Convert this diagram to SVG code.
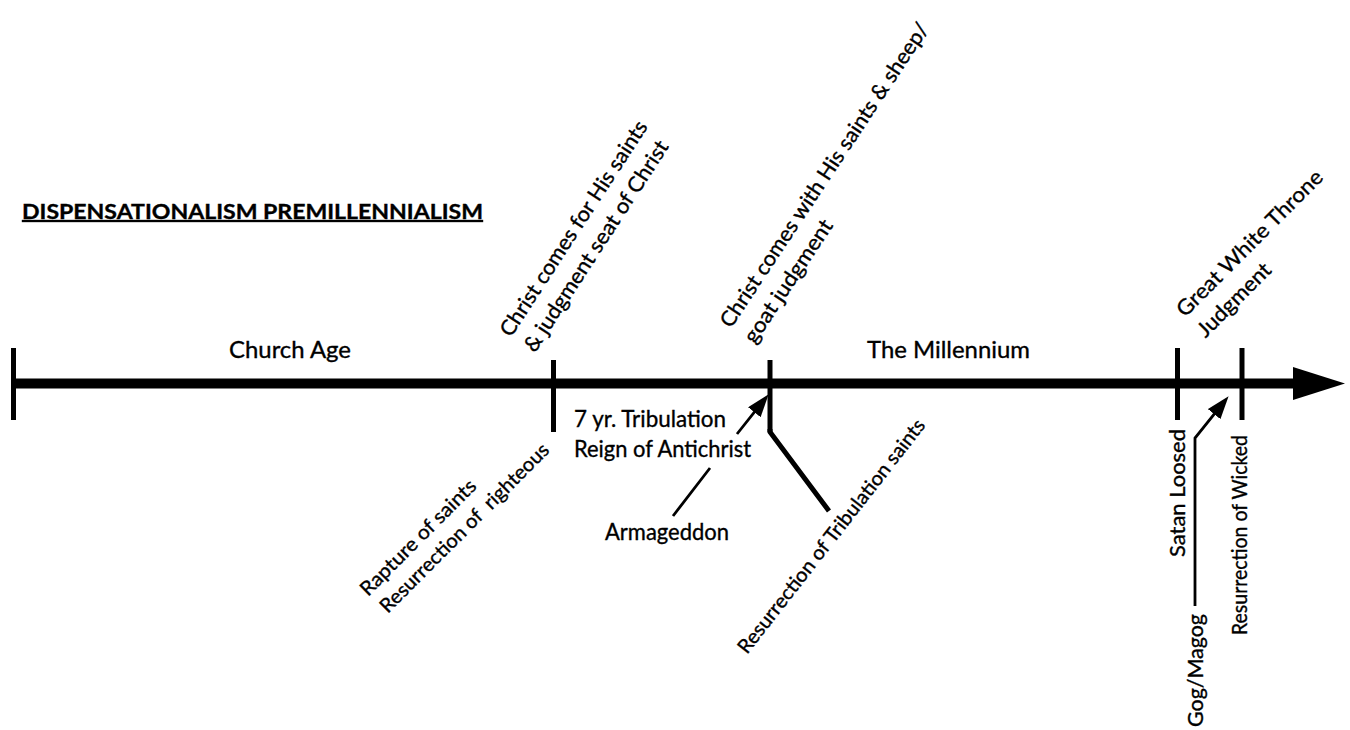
<svg xmlns="http://www.w3.org/2000/svg" width="1350" height="730" viewBox="0 0 1350 730">
<style>
.t{font-family:Lato,"Open Sans","Liberation Sans",sans-serif;fill:#000;stroke:#000;stroke-width:0.35}
.h{font-size:23px}
.r{font-size:21.2px}
.s{font-size:19.8px}
.v{font-size:21px}
.tick{stroke:#000;stroke-width:5;fill:none}
.conn{stroke:#000;stroke-width:2.8;fill:none}
.lead{stroke:#000;stroke-width:5;fill:none;stroke-linejoin:miter}
</style>
<defs>
<marker id="ah" viewBox="0 0 23 16" refX="16" refY="8" markerWidth="23" markerHeight="16" markerUnits="userSpaceOnUse" orient="auto">
<path d="M0,0 L23,8 L0,16 z" fill="#000"/>
</marker>
</defs>
<rect width="1350" height="730" fill="#fff"/>

<g id="title">
<text class="t" x="22" y="219" font-size="20" font-weight="bold" text-decoration="underline" textLength="461" lengthAdjust="spacingAndGlyphs">DISPENSATIONALISM PREMILLENNIALISM</text>
</g>

<g id="axis">
<line x1="13" y1="383.5" x2="1296" y2="383.5" stroke="#000" stroke-width="10"/>
<polygon points="1293,367 1345,383.5 1293,400" fill="#000"/>
<line class="tick" x1="13.5" y1="348" x2="13.5" y2="420"/>
</g>

<g id="church-age">
<text class="t h" x="229" y="358" textLength="122" lengthAdjust="spacingAndGlyphs">Church Age</text>
</g>

<g id="millennium">
<text class="t h" x="867" y="358" textLength="163" lengthAdjust="spacingAndGlyphs">The Millennium</text>
</g>

<g id="christ-comes-for">
<line class="tick" x1="553.5" y1="360" x2="553.5" y2="432"/>
<g transform="translate(511,338) rotate(-57)">
<text class="t r" x="0" y="0" textLength="252" lengthAdjust="spacingAndGlyphs">Christ comes for His saints</text>
<text class="t r" x="0" y="28.5" textLength="247" lengthAdjust="spacingAndGlyphs">&amp; judgment seat of Christ</text>
</g>
</g>

<g id="rapture">
<g transform="translate(368,597) rotate(-45)">
<text class="t s" x="0" y="0" textLength="155" lengthAdjust="spacingAndGlyphs">Rapture of saints</text>
<text class="t s" x="2" y="26" textLength="230" lengthAdjust="spacingAndGlyphs" style="white-space:pre">Resurrection of  righteous</text>
</g>
</g>

<g id="tribulation">
<text class="t h" x="574" y="427" textLength="152" lengthAdjust="spacingAndGlyphs">7 yr. Tribulation</text>
<text class="t h" x="574" y="457" textLength="177" lengthAdjust="spacingAndGlyphs">Reign of Antichrist</text>
</g>

<g id="armageddon">
<text class="t h" x="605" y="540" textLength="124" lengthAdjust="spacingAndGlyphs">Armageddon</text>
</g>

<g id="christ-comes-with">
<line class="tick" x1="770" y1="360" x2="770" y2="432"/>
<g transform="translate(731,329) rotate(-56.5)">
<text class="t r" x="0" y="0" textLength="360" lengthAdjust="spacingAndGlyphs">Christ comes with His saints &amp; sheep/</text>
<text class="t r" x="0" y="28.5" textLength="143" lengthAdjust="spacingAndGlyphs">goat judgment</text>
</g>
</g>

<g id="tribulation-saints">
<text class="t s" transform="translate(747,655) rotate(-52)" x="0" y="0" textLength="291" lengthAdjust="spacingAndGlyphs">Resurrection of Tribulation saints</text>
</g>

<g id="satan-loosed">
<line class="tick" x1="1177.5" y1="348" x2="1177.5" y2="420"/>
<text class="t v" transform="translate(1185,557) rotate(-90)" x="0" y="0" textLength="128" lengthAdjust="spacingAndGlyphs">Satan Loosed</text>
</g>

<g id="gog-magog">
<text class="t v" transform="translate(1203,727) rotate(-90)" x="0" y="0" textLength="113" lengthAdjust="spacingAndGlyphs">Gog/Magog</text>
</g>

<g id="great-white-throne">
<line class="tick" x1="1242" y1="348" x2="1242" y2="420"/>
<g transform="translate(1185,318) rotate(-45)">
<text class="t r" x="0" y="0" textLength="197" lengthAdjust="spacingAndGlyphs">Great White Throne</text>
<text class="t r" x="0" y="29" textLength="95" lengthAdjust="spacingAndGlyphs">Judgment</text>
</g>
</g>

<g id="resurrection-wicked">
<text class="t v" transform="translate(1246.5,635) rotate(-90)" x="0" y="0" textLength="200" lengthAdjust="spacingAndGlyphs">Resurrection of Wicked</text>
</g>

<g id="connectors">
<path class="lead" d="M770,429 L770,432 L829,511"/>
<path class="conn" d="M673,516 L710,468 M737,434 L764.3,399.7" marker-end="url(#ah)"/>
<path class="conn" d="M1195,606 L1195,438 L1224.2,401.7" marker-end="url(#ah)"/>
</g>
</svg>
